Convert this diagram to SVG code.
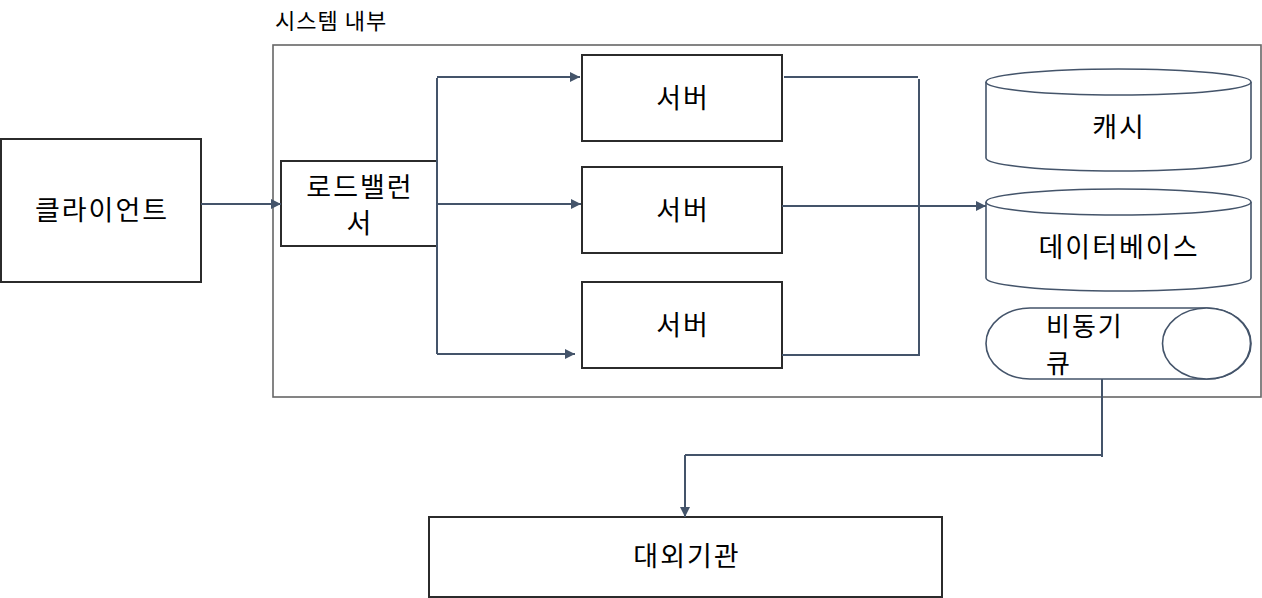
<svg xmlns="http://www.w3.org/2000/svg" width="1262" height="598" viewBox="0 0 1262 598">
<defs>
<style>
.box{fill:#fff;stroke:#2b2b2b;stroke-width:2}
.shape{fill:#fff;stroke:#44546a;stroke-width:1.6}
.cont{fill:none;stroke:#666;stroke-width:1.6}
.t{font-family:"Noto Sans CJK KR","Noto Sans",sans-serif;font-size:27px;letter-spacing:2px;fill:#000;text-anchor:middle}
.tl{font-family:"Noto Sans CJK KR","Noto Sans",sans-serif;font-size:26px;letter-spacing:2px;fill:#000}
.lbl{font-family:"Noto Sans CJK KR","Noto Sans",sans-serif;font-size:22px;letter-spacing:1px;fill:#000}
.c{fill:none;stroke:#44546a;stroke-width:2}
</style>
<marker id="ah" viewBox="0 0 10 10" refX="10" refY="5" markerWidth="10" markerHeight="10" markerUnits="userSpaceOnUse" orient="auto">
<path d="M0,0 L10,5 L0,10 Z" fill="#44546a"/>
</marker>
</defs>
<rect width="1262" height="598" fill="#fff"/>

<g id="system">
<rect class="cont" x="273" y="45" width="988" height="352"/>
<text class="lbl" x="275" y="29">시스템 내부</text>
</g>

<g id="client">
<rect class="box" x="1" y="139" width="200" height="143"/>
<text class="t" x="102" y="220">클라이언트</text>
</g>

<g id="lb">
<rect class="box" x="281" y="161" width="156" height="85"/>
<text class="t" x="360" y="197">로드밸런</text>
<text class="t" x="360" y="233">서</text>
</g>

<g id="server1">
<rect class="box" x="582" y="55" width="200" height="86"/>
<text class="t" x="683" y="108">서버</text>
</g>
<g id="server2">
<rect class="box" x="582" y="167" width="200" height="86"/>
<text class="t" x="683" y="220">서버</text>
</g>
<g id="server3">
<rect class="box" x="582" y="282" width="200" height="86"/>
<text class="t" x="683" y="335">서버</text>
</g>

<g id="cache">
<path class="shape" d="M986,82 L986,158 A132.5,13 0 0 0 1251,158 L1251,82 A132.5,13 0 0 0 986,82 Z"/>
<path class="shape" d="M986,82 A132.5,13 0 0 0 1251,82"/>
<text class="t" x="1119" y="137">캐시</text>
</g>

<g id="db">
<path class="shape" d="M986,202 L986,278 A132.5,13 0 0 0 1251,278 L1251,202 A132.5,13 0 0 0 986,202 Z"/>
<path class="shape" d="M986,202 A132.5,13 0 0 0 1251,202"/>
<text class="t" x="1119" y="257">데이터베이스</text>
</g>

<g id="queue">
<rect class="shape" x="986" y="308" width="265" height="71" rx="44" ry="35.5"/>
<ellipse class="shape" cx="1206.5" cy="343.5" rx="44" ry="35.5"/>
<text class="tl" x="1046" y="336">비동기</text>
<text class="tl" x="1046" y="373">큐</text>
</g>

<g id="external">
<rect class="box" x="429" y="517" width="513" height="80"/>
<text class="t" x="687" y="566">대외기관</text>
</g>

<g id="connectors">
<line class="c" x1="201" y1="204" x2="281" y2="204" marker-end="url(#ah)"/>
<line class="c" x1="437" y1="78" x2="437" y2="354"/>
<line class="c" x1="437" y1="77" x2="580" y2="77" marker-end="url(#ah)"/>
<line class="c" x1="437" y1="204" x2="581" y2="204" marker-end="url(#ah)"/>
<line class="c" x1="437" y1="354" x2="575" y2="354" marker-end="url(#ah)"/>
<line class="c" x1="784" y1="77" x2="918" y2="77"/>
<line class="c" x1="919" y1="79" x2="919" y2="356"/>
<line class="c" x1="782" y1="355" x2="918" y2="355"/>
<line class="c" x1="782" y1="206" x2="986" y2="206" marker-end="url(#ah)"/>
<line class="c" x1="1102" y1="379" x2="1102" y2="457"/>
<line class="c" x1="1102" y1="455" x2="685" y2="455"/>
<line class="c" x1="685" y1="455" x2="685" y2="517" marker-end="url(#ah)"/>
</g>
</svg>
